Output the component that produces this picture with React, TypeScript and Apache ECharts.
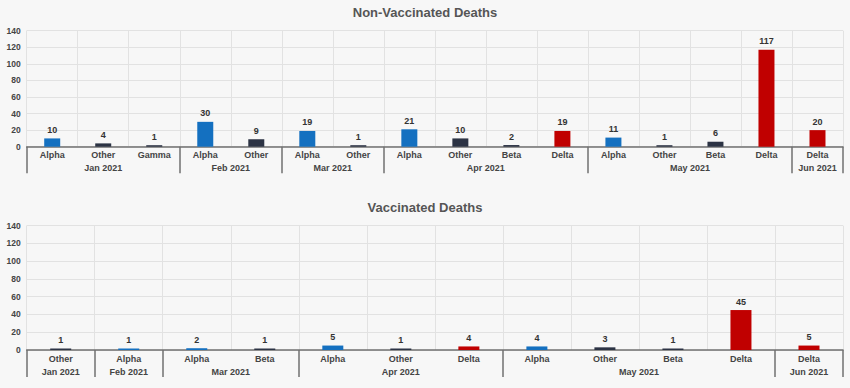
import React, { useEffect, useRef } from "react";
import * as echarts from "echarts";

// Non-vaccinated deaths
const nvVariants = ["Alpha", "Other", "Gamma", "Alpha", "Other", "Alpha", "Other", "Alpha", "Other", "Beta", "Delta", "Alpha", "Other", "Beta", "Delta", "Delta"];
const nvValues = [10, 4, 1, 30, 9, 19, 1, 21, 10, 2, 19, 11, 1, 6, 117, 20];
const nvMonths = ["Jan 2021", "Feb 2021", "Mar 2021", "Apr 2021", "May 2021", "Jun 2021"];
const nvMonthSizes = [3, 2, 2, 4, 4, 1];

// Vaccinated deaths
const vVariants = ["Other", "Alpha", "Alpha", "Beta", "Alpha", "Other", "Delta", "Alpha", "Other", "Beta", "Delta", "Delta"];
const vValues = [1, 1, 2, 1, 5, 1, 4, 4, 3, 1, 45, 5];
const vMonths = ["Jan 2021", "Feb 2021", "Mar 2021", "Apr 2021", "May 2021", "Jun 2021"];
const vMonthSizes = [1, 1, 2, 3, 4, 1];

const yTicks = { min: 0, max: 140, interval: 20 };

const variantColors: Record<string, string> = {
  Alpha: "#1470c0",
  Other: "#2c3344",
  Beta: "#2c3344",
  Gamma: "#2c3344",
  Delta: "#c00000",
};

const FONT = "Liberation Sans, Arial, sans-serif";
const GRID_COLOR = "#e2e2e2";
const AXIS_COLOR = "#707070";
const TEXT_COLOR = "#444";

function groupBounds(sizes: number[]) {
  const bounds = [0];
  sizes.forEach((s) => bounds.push(bounds[bounds.length - 1] + s));
  const centers = sizes.map((s, i) => bounds[i] + s / 2);
  return { bounds, centers };
}

export default function App() {
  const ref = useRef<HTMLDivElement>(null);

  useEffect(() => {
    if (!ref.current) return;
    const chart = echarts.init(ref.current, null, { renderer: "svg" });

    const nv = groupBounds(nvMonthSizes);
    const v = groupBounds(vMonthSizes);

    const catAxis = (gridIndex: number, data: string[]) => ({
      type: "category",
      gridIndex,
      data,
      position: "bottom",
      axisLine: { show: false },
      axisTick: { show: false },
      axisLabel: {
        margin: 4,
        fontSize: 9,
        fontWeight: "bold",
        color: TEXT_COLOR,
        fontFamily: FONT,
        interval: 0,
      },
      splitLine: { show: true, lineStyle: { color: GRID_COLOR, width: 1 } },
    });

    const monthAxis = (gridIndex: number, n: number, g: { bounds: number[]; centers: number[] }, months: string[], tickLen: number) => ({
      type: "value",
      gridIndex,
      position: "bottom",
      min: 0,
      max: n,
      axisLine: { show: true, lineStyle: { color: AXIS_COLOR, width: 1.5 } },
      axisTick: {
        show: true,
        customValues: g.bounds,
        length: tickLen,
        lineStyle: { color: AXIS_COLOR, width: 1.5 },
      },
      axisLabel: {
        show: true,
        customValues: g.centers,
        margin: 17,
        fontSize: 9,
        fontWeight: "bold",
        color: TEXT_COLOR,
        fontFamily: FONT,
        formatter: (val: number) => {
          const idx = g.centers.findIndex((c) => Math.abs(c - val) < 1e-6);
          return idx >= 0 ? months[idx] : "";
        },
      },
      splitLine: { show: false },
    });

    const yAxis = (gridIndex: number) => ({
      type: "value",
      gridIndex,
      min: yTicks.min,
      max: yTicks.max,
      interval: yTicks.interval,
      axisLine: { show: false },
      axisTick: { show: false },
      axisLabel: {
        margin: 6,
        fontSize: 8.5,
        fontWeight: "bold",
        color: TEXT_COLOR,
        fontFamily: FONT,
      },
      splitLine: { show: true, lineStyle: { color: GRID_COLOR, width: 1 } },
    });

    const barSeries = (idx: number, variants: string[], values: number[], barWidth: number) => ({
      type: "bar",
      xAxisIndex: idx * 2,
      yAxisIndex: idx,
      barWidth,
      barMinHeight: 1.5,
      data: values.map((val, i) => ({
        value: val,
        itemStyle: { color: variantColors[variants[i]] },
      })),
      label: {
        show: true,
        position: "top",
        distance: 4,
        fontSize: 9,
        fontWeight: "bold",
        color: "#333",
        fontFamily: FONT,
      },
    });

    chart.setOption({
      animation: false,
      backgroundColor: "#f7f7f7",
      textStyle: { fontFamily: FONT },
      title: [
        {
          text: "Non-Vaccinated Deaths",
          left: "center",
          top: 1,
          textStyle: { fontSize: 13, fontWeight: "bold", color: "#555", fontFamily: FONT },
        },
        {
          text: "Vaccinated Deaths",
          left: "center",
          top: 196,
          textStyle: { fontSize: 13, fontWeight: "bold", color: "#555", fontFamily: FONT },
        },
      ],
      grid: [
        { left: 26.7, right: 7, top: 30.7, height: 116, containLabel: false },
        { left: 26.7, right: 7, top: 225.7, height: 124.3, containLabel: false },
      ],
      xAxis: [
        catAxis(0, nvVariants),
        monthAxis(0, nvVariants.length, nv, nvMonths, 26.5),
        catAxis(1, vVariants),
        monthAxis(1, vVariants.length, v, vMonths, 27),
      ],
      yAxis: [yAxis(0), yAxis(1)],
      series: [barSeries(0, nvVariants, nvValues, 16), barSeries(1, vVariants, vValues, 21)],
    });

    return () => chart.dispose();
  }, []);

  return (
    <div
      ref={ref}
      style={{ position: "fixed", left: 0, top: 0, width: 850, height: 388, background: "#f7f7f7" }}
    />
  );
}
